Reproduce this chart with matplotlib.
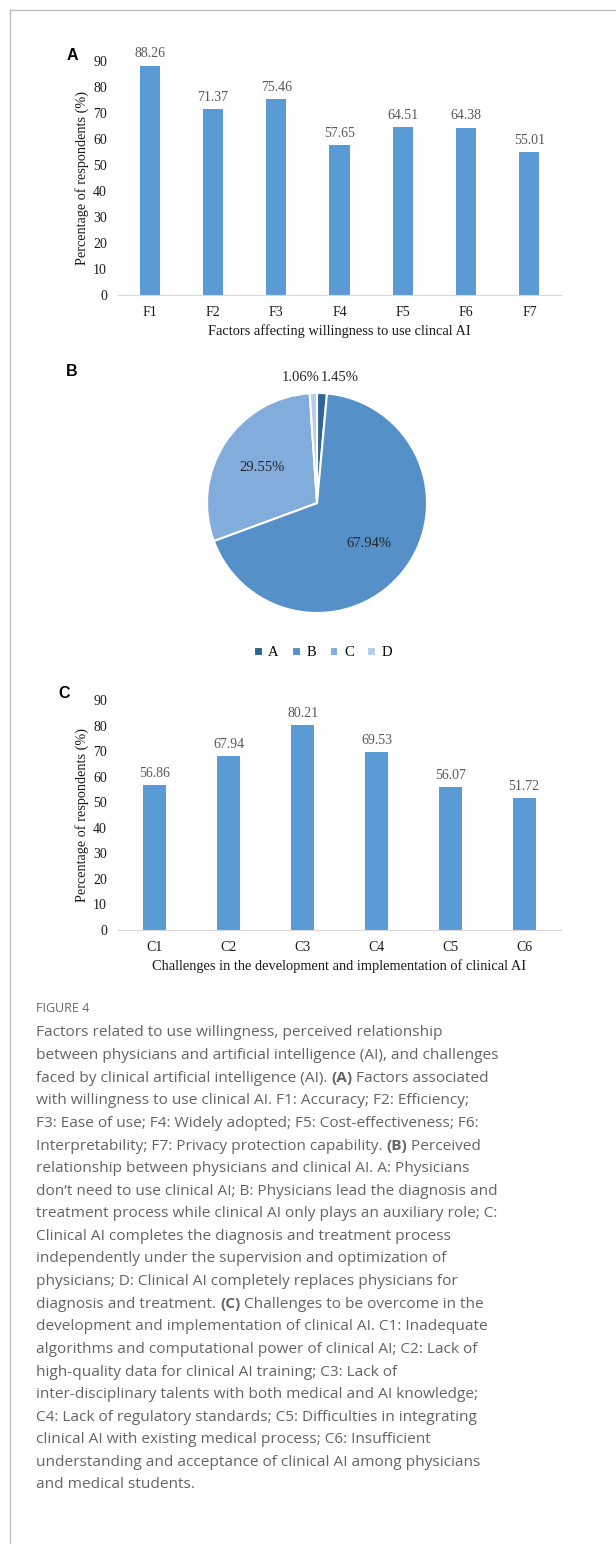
import matplotlib
matplotlib.use("Agg")
import matplotlib.pyplot as plt
from matplotlib.lines import Line2D

W, H = 616, 1544
DPI = 100

# panel A data
factors = ["F1", "F2", "F3", "F4", "F5", "F6", "F7"]
factor_pct = [88.26, 71.37, 75.46, 57.65, 64.51, 64.38, 55.01]

# panel B data
relation_labels = ["A", "B", "C", "D"]
relation_pct = [1.45, 67.94, 29.55, 1.06]
relation_colors = ["#2F6497", "#5590C8", "#82ACDC", "#B7CDEA"]

# panel C data
challenges = ["C1", "C2", "C3", "C4", "C5", "C6"]
challenge_pct = [56.86, 67.94, 80.21, 69.53, 56.07, 51.72]

caption_lines = [
    "Factors related to use willingness, perceived relationship",
    "between physicians and artificial intelligence (AI), and challenges",
    "faced by clinical artificial intelligence (AI). **(A)** Factors associated",
    "with willingness to use clinical AI. F1: Accuracy; F2: Efficiency;",
    "F3: Ease of use; F4: Widely adopted; F5: Cost-effectiveness; F6:",
    "Interpretability; F7: Privacy protection capability. **(B)** Perceived",
    "relationship between physicians and clinical AI. A: Physicians",
    "don\u2019t need to use clinical AI; B: Physicians lead the diagnosis and",
    "treatment process while clinical AI only plays an auxiliary role; C:",
    "Clinical AI completes the diagnosis and treatment process",
    "independently under the supervision and optimization of",
    "physicians; D: Clinical AI completely replaces physicians for",
    "diagnosis and treatment. **(C)** Challenges to be overcome in the",
    "development and implementation of clinical AI. C1: Inadequate",
    "algorithms and computational power of clinical AI; C2: Lack of",
    "high-quality data for clinical AI training; C3: Lack of",
    "inter-disciplinary talents with both medical and AI knowledge;",
    "C4: Lack of regulatory standards; C5: Difficulties in integrating",
    "clinical AI with existing medical process; C6: Insufficient",
    "understanding and acceptance of clinical AI among physicians",
    "and medical students.",
]

SERIF = "Liberation Serif"
BAR_COLOR = "#5B9BD5"
LABEL_COLOR = "#595959"


def px_rect(left, top, right, bottom):
    """Convert pixel box (top-left origin) to figure fraction rect."""
    return [left / W, 1 - bottom / H, (right - left) / W, (bottom - top) / H]


def bar_panel(fig, rect, cats, values, xlabel, bar_width):
    ax = fig.add_axes(rect)
    x = range(len(cats))
    bars = ax.bar(x, values, width=bar_width, color=BAR_COLOR, zorder=2)
    for b, v in zip(bars, values):
        ax.text(b.get_x() + b.get_width() / 2, v + 2.0, f"{v:.2f}",
                ha="center", va="bottom", fontsize=10, family=SERIF,
                color=LABEL_COLOR)
    ax.set_xlim(-0.5, len(cats) - 0.5)
    ax.set_ylim(0, 90)
    ax.set_yticks(range(0, 91, 10))
    ax.set_xticks(list(x))
    ax.set_xticklabels(cats)
    for s in ["top", "right", "left"]:
        ax.spines[s].set_visible(False)
    ax.spines["bottom"].set_color("#D9D9D9")
    ax.tick_params(axis="both", length=0, labelsize=10, colors="#1A1A1A")
    ax.tick_params(axis="y", pad=8)
    ax.tick_params(axis="x", pad=8)
    for lab in ax.get_xticklabels() + ax.get_yticklabels():
        lab.set_family(SERIF)
    ax.set_ylabel("Percentage of respondents (%)", family=SERIF, fontsize=10.3,
                  labelpad=3, color="#1A1A1A")
    ax.set_xlabel(xlabel, family=SERIF, fontsize=10.4, labelpad=4,
                  color="#1A1A1A")
    return ax


fig = plt.figure(figsize=(W / DPI, H / DPI), dpi=DPI)

# frame lines of the figure card
fig.add_artist(Line2D([10 / W, 10 / W], [0, 1 - 10 / H], color="#BDBDBD", lw=1))
fig.add_artist(Line2D([10 / W, 1], [1 - 10 / H, 1 - 10 / H], color="#BDBDBD", lw=1))

# panel A
bar_panel(fig, px_rect(118, 61, 561, 295), factors, factor_pct,
          "Factors affecting willingness to use clincal AI", 0.32)
fig.text(72 / W, 1 - 55 / H, "A", fontsize=11.5, fontweight="bold",
         family="Liberation Sans", ha="center", va="center")

# panel B
r = 110
cx, cy = 317, 503
axp = fig.add_axes(px_rect(cx - r, cy - r, cx + r, cy + r))
wedges, texts, autotexts = axp.pie(
    relation_pct, colors=relation_colors, startangle=90, counterclock=False,
    autopct="%.2f%%", pctdistance=0.6, radius=1,
    wedgeprops=dict(edgecolor="white", linewidth=1.5),
    textprops=dict(family=SERIF, fontsize=10.5, color="#262626"))
axp.set_xlim(-1, 1)
axp.set_ylim(-1, 1)
axp.set_aspect("equal")
# the two thin slices get their labels above the pie
autotexts[0].set_position((0.21, 1.14))
autotexts[3].set_position((-0.15, 1.14))
axp.legend(wedges, relation_labels, loc="center",
           bbox_to_anchor=(323 / W, 1 - 653 / H), bbox_transform=fig.transFigure,
           ncol=4, frameon=False, handlelength=0.6, handleheight=0.6,
           handletextpad=0.4, columnspacing=0.9,
           prop=dict(family=SERIF, size=10.5))
fig.text(72 / W, 1 - 372 / H, "B", fontsize=11.5, fontweight="bold",
         family="Liberation Sans", ha="center", va="center")

# panel C
bar_panel(fig, px_rect(118, 700, 561, 930), challenges, challenge_pct,
          "Challenges in the development and implementation of clinical AI", 0.31)
fig.text(64 / W, 1 - 693 / H, "C", fontsize=11.5, fontweight="bold",
         family="Liberation Sans", ha="center", va="center")

# caption
CAP_FONT = "Open Sans"
CAP_COLOR = "#646464"
fig.text(36 / W, 1 - 1009 / H, "FIGURE 4", fontsize=9, family=CAP_FONT,
         color="#6A6A6A", va="center", ha="left")

renderer = fig.canvas.get_renderer()
line_y0 = 1033
line_step = 22.6
for i, line in enumerate(caption_lines):
    y = 1 - (line_y0 + i * line_step) / H
    x_px = 36.0
    parts = line.split("**")
    for j, part in enumerate(parts):
        if not part:
            continue
        t = fig.text(x_px / W, y, part, fontsize=11.1, family=CAP_FONT,
                     color=CAP_COLOR, va="center", ha="left",
                     fontweight="bold" if j % 2 == 1 else "normal")
        x_px += t.get_window_extent(renderer).width

fig.savefig("out.png", dpi=DPI)
